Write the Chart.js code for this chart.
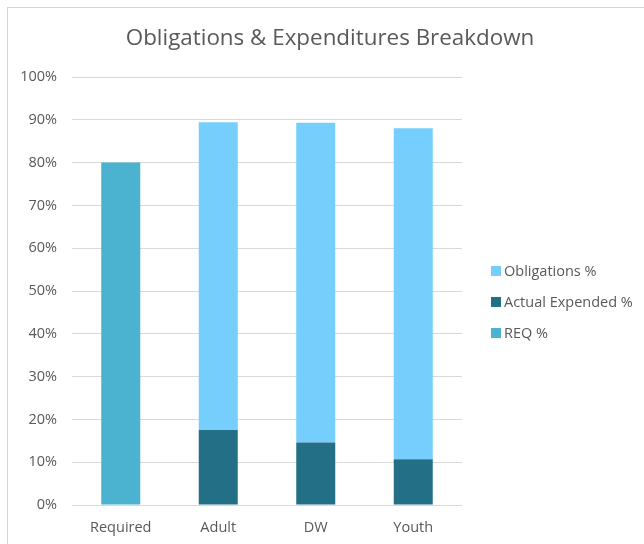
<!DOCTYPE html>
<html>
<head>
<meta charset="utf-8">
<script src="https://cdn.jsdelivr.net/npm/chart.js@4"></script>
<style>
  html, body { margin: 0; padding: 0; background: #fff; }
  #wrap { position: relative; width: 644px; height: 544px; }
  #frame { position: absolute; left: 7px; top: 7px; width: 700px; height: 600px; border-left: 1px solid #d4d4d4; border-top: 1px solid #d4d4d4; }
  canvas { position: absolute; left: 0; top: 0; }
</style>
</head>
<body>
<div id="wrap">
  <div id="frame"></div>
  <canvas id="c" width="644" height="544"></canvas>
</div>
<script>
const chartTitle = "Obligations & Expenditures Breakdown";
const categories = ["Required", "Adult", "DW", "Youth"];
const reqPct = [80, null, null, null];
const actualExpendedPct = [null, 17.5, 14.6, 10.7];
const obligationsPct = [null, 71.9, 74.7, 77.3];
const yTicks = [0, 10, 20, 30, 40, 50, 60, 70, 80, 90, 100];

const FONT = "'Open Sans', 'Liberation Sans', sans-serif";
const TXT = "#595959";

const titleAndLegend = {
  id: 'titleAndLegend',
  afterDraw(chart) {
    const ctx = chart.ctx;
    ctx.save();
    ctx.fillStyle = TXT;
    ctx.font = "22.4px " + FONT;
    ctx.textAlign = 'center';
    ctx.textBaseline = 'middle';
    ctx.fillText(chartTitle, 330, 39);
    // legend in reverse dataset order (top of stack first)
    const ds = chart.data.datasets.slice().reverse();
    const ys = [271, 302, 333];
    ctx.font = "14.5px " + FONT;
    ctx.textAlign = 'left';
    ds.forEach((d, i) => {
      ctx.fillStyle = d.backgroundColor;
      ctx.fillRect(491, ys[i] - 5, 10, 10);
      ctx.fillStyle = TXT;
      ctx.fillText(d.label, 504, ys[i] + 1);
    });
    ctx.restore();
  }
};

new Chart(document.getElementById('c'), {
  type: 'bar',
  data: {
    labels: categories,
    datasets: [
      { label: 'REQ %', data: reqPct, backgroundColor: '#4BB2CF' },
      { label: 'Actual Expended %', data: actualExpendedPct, backgroundColor: '#236F85' },
      { label: 'Obligations %', data: obligationsPct, backgroundColor: '#75CEFB' }
    ]
  },
  options: {
    responsive: false,
    animation: false,
    devicePixelRatio: 1,
    layout: { padding: { top: 77, right: 182, bottom: 0, left: 0 } },
    datasets: { bar: { barPercentage: 0.4, categoryPercentage: 1.0, skipNull: false } },
    plugins: {
      legend: { display: false },
      title: { display: false },
      tooltip: { enabled: false }
    },
    scales: {
      x: {
        stacked: true,
        grid: { display: false, drawTicks: false },
        border: { display: false },
        ticks: { color: TXT, font: { family: FONT, size: 14.5 }, padding: 14 },
        afterFit(s) { s.height = 39; }
      },
      y: {
        stacked: true,
        min: 0, max: 100,
        afterBuildTicks(s) { s.ticks = yTicks.map(v => ({ value: v })); },
        grid: { color: '#d9d9d9', lineWidth: 1, drawTicks: false },
        border: { display: false },
        ticks: { color: TXT, font: { family: FONT, size: 14.5 }, padding: 15, callback: v => v + '%' },
        afterFit(s) { s.width = 72; }
      }
    }
  },
  plugins: [titleAndLegend]
});
</script>
</body>
</html>
